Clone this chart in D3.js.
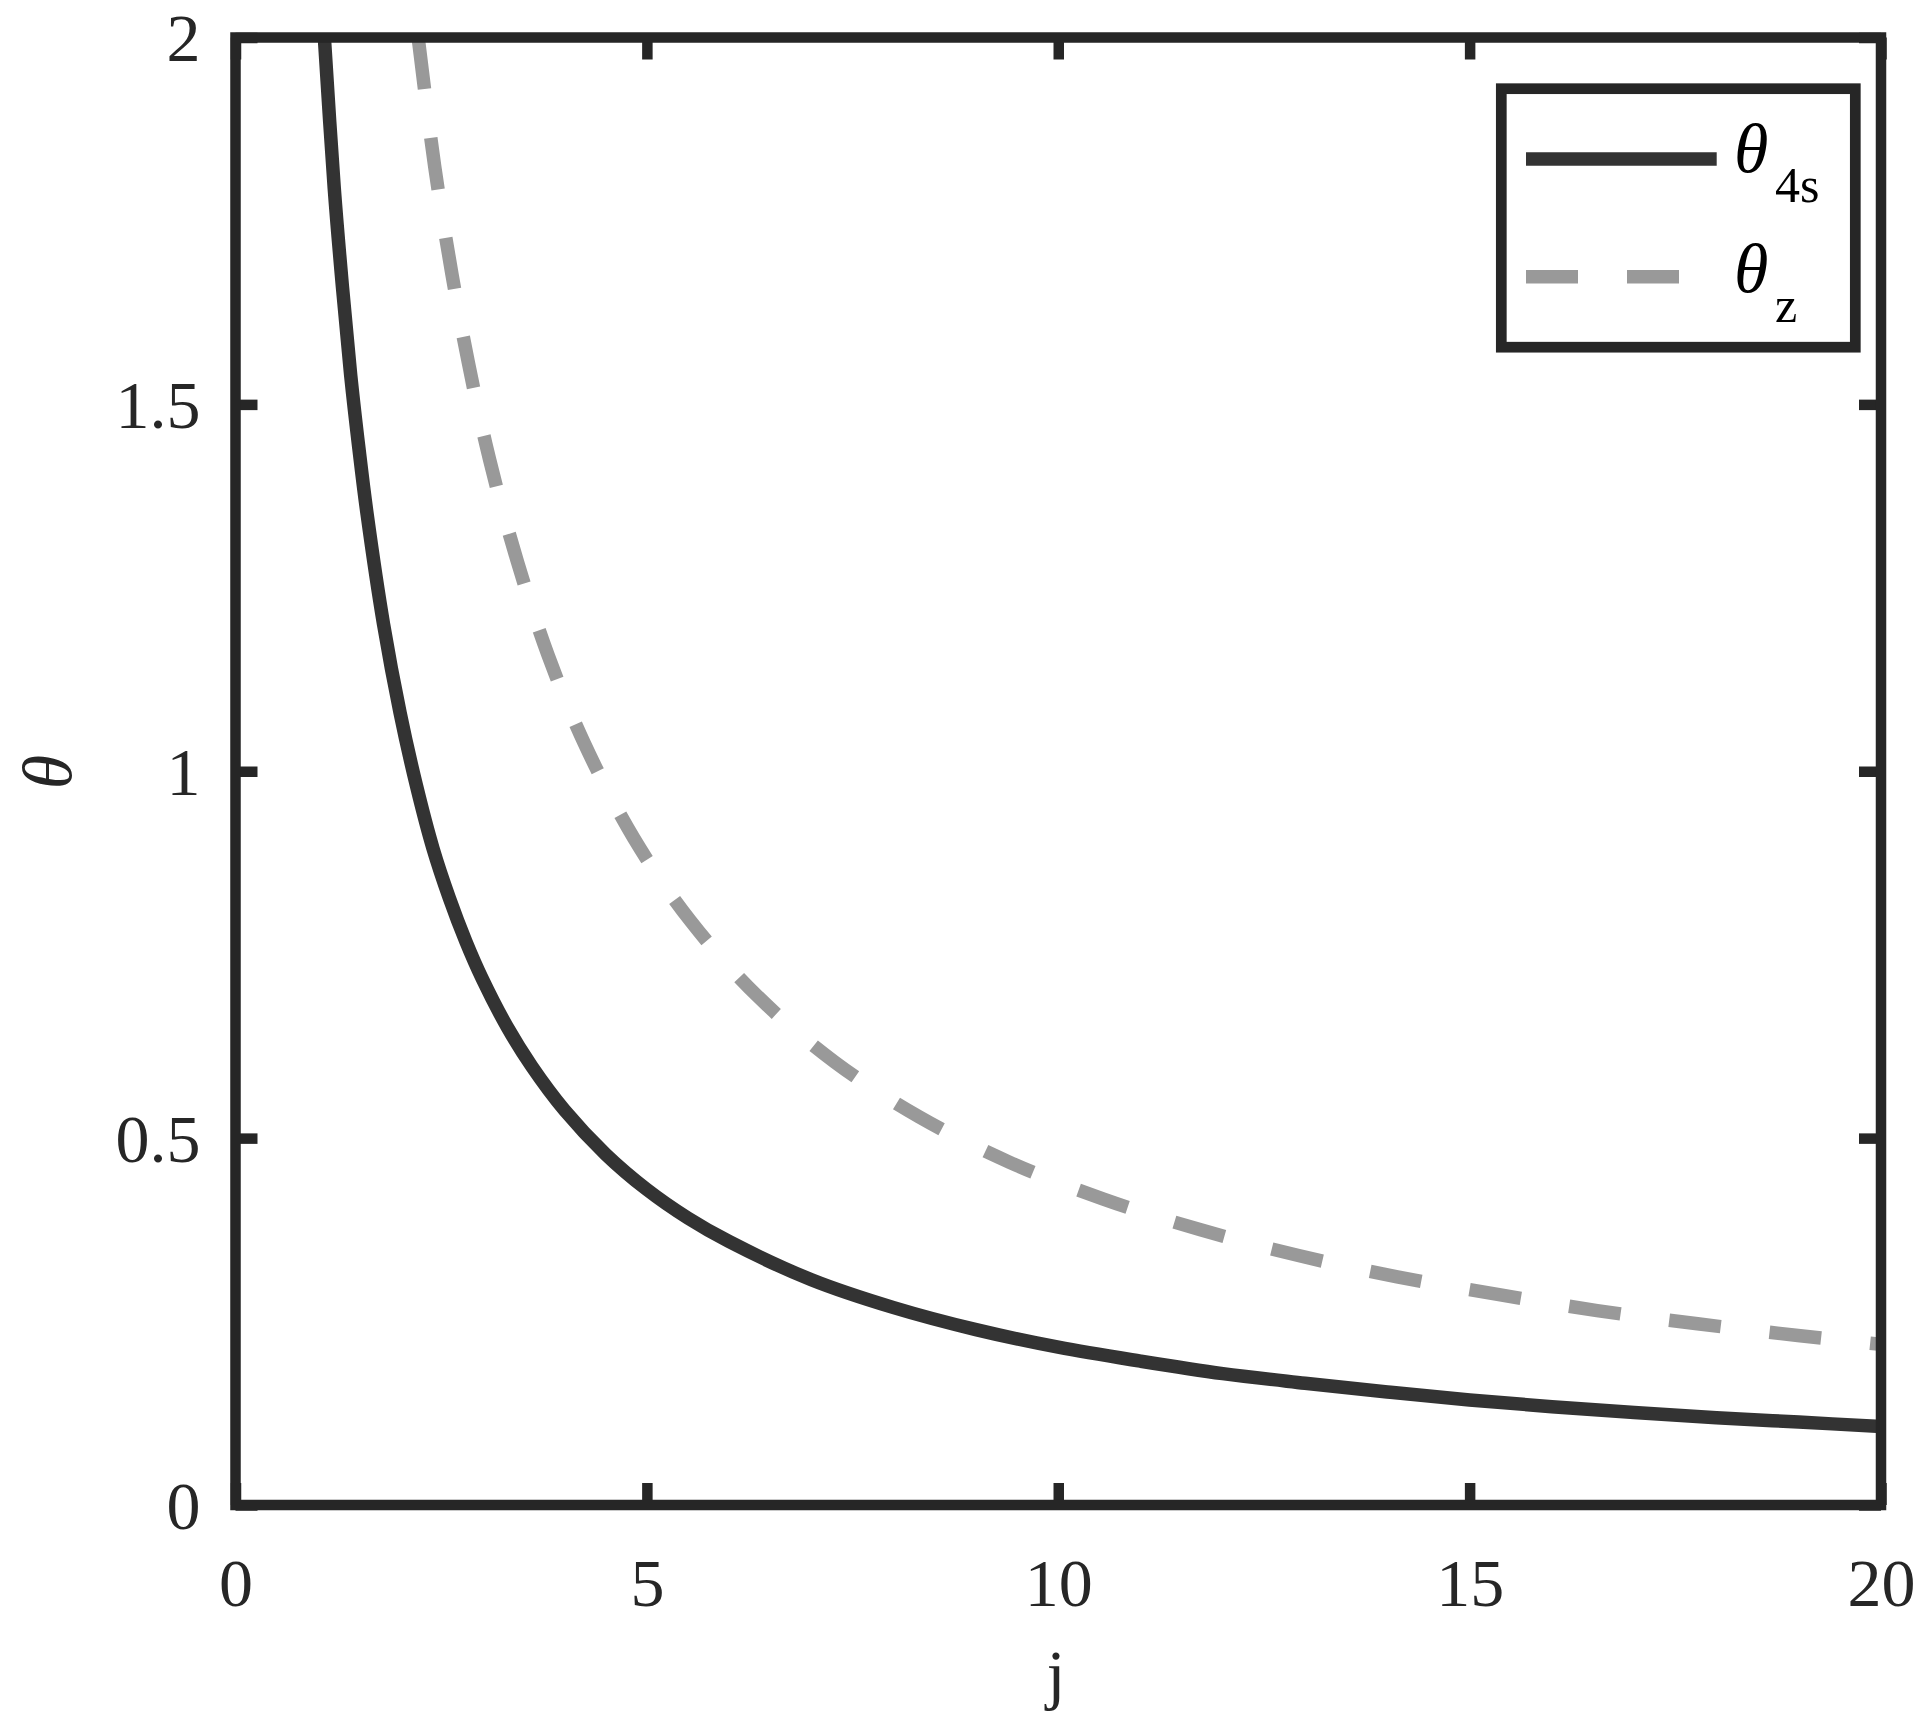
<!DOCTYPE html>
<html>
<head>
<meta charset="utf-8">
<script src="https://cdn.jsdelivr.net/npm/d3@7"></script>
<style>
  html, body { margin: 0; padding: 0; background: #fff; }
  svg { display: block; }
</style>
</head>
<body>
<svg id="chart" width="1926" height="1732"></svg>
<script>
// ---- data ----
const jSolid    = [1.08, 1.2, 1.3, 1.4, 1.5, 1.6, 1.8, 2.0, 2.2, 2.4, 2.6, 2.8, 3.0, 3.3, 3.6, 4.0, 4.5, 5.0, 5.5, 6.0, 7.0, 8.0, 9.0, 10, 11, 12, 13, 14, 15, 16, 17, 18, 19, 20];
const theta4s   = [2.0, 1.795, 1.66, 1.54, 1.44, 1.35, 1.20, 1.08, 0.98, 0.895, 0.827, 0.768, 0.717, 0.652, 0.598, 0.538, 0.478, 0.430, 0.391, 0.359, 0.307, 0.269, 0.239, 0.215, 0.196, 0.179, 0.166, 0.154, 0.143, 0.134, 0.126, 0.119, 0.113, 0.107];
const jDashed   = [2.22, 2.42, 2.63, 2.83, 3.09, 3.42, 3.80, 4.24, 4.84, 5.53, 6.34, 7.28, 8.31, 9.41, 10.55, 11.73, 12.92, 14.12, 15.34, 16.55, 17.77, 18.99, 20.0];
const thetaZ    = [2.0, 1.825, 1.678, 1.557, 1.424, 1.288, 1.158, 1.038, 0.909, 0.796, 0.694, 0.604, 0.529, 0.467, 0.417, 0.375, 0.340, 0.311, 0.287, 0.265, 0.247, 0.231, 0.219];
const xTicks    = [0, 5, 10, 15, 20];
const yTicks    = [0, 0.5, 1, 1.5, 2];
const yTickLabels = ["0", "0.5", "1", "1.5", "2"];
const seriesNames = [{main: "θ", sub: "4s"}, {main: "θ", sub: "z"}];

// ---- layout ----
const L = 235.5, R = 1881, T = 37.5, B = 1505;
const frameColor = "#262626";
const font = "'Liberation Serif', 'Times New Roman', serif";

const svg = d3.select("#chart");
const x = d3.scaleLinear().domain([0, 20]).range([L, R]);
const y = d3.scaleLinear().domain([0, 2]).range([B, T]);

svg.append("defs").append("clipPath").attr("id", "clip")
  .append("rect").attr("x", L).attr("y", T).attr("width", R - L).attr("height", B - T);

const line = d3.line().x(d => x(d[0])).y(d => y(d[1])).curve(d3.curveCatmullRom.alpha(0.5));

const plot = svg.append("g").attr("clip-path", "url(#clip)");
plot.append("path")
  .datum(jSolid.map((j, i) => [j, theta4s[i]]))
  .attr("d", line).attr("fill", "none")
  .attr("stroke", "#333333").attr("stroke-width", 13.5);
plot.append("path")
  .datum(jDashed.map((j, i) => [j, thetaZ[i]]))
  .attr("d", line).attr("fill", "none")
  .attr("stroke", "#999999").attr("stroke-width", 13.5)
  .attr("stroke-dasharray", "52,49");

// ---- axes (inward ticks on all four sides) ----
const tickLen = 22;
function styleAxis(g) {
  g.select(".domain").remove();
  g.selectAll(".tick line").attr("stroke", frameColor).attr("stroke-width", 10.5);
  g.selectAll(".tick text").attr("fill", frameColor).attr("font-family", font).attr("font-size", 68);
}
const gB = svg.append("g").attr("transform", `translate(0,${B})`)
  .call(d3.axisBottom(x).tickValues(xTicks).tickSize(-tickLen).tickFormat(d3.format("d")));
styleAxis(gB);
gB.selectAll(".tick text").attr("y", 101).attr("dy", null);

const gT = svg.append("g").attr("transform", `translate(0,${T})`)
  .call(d3.axisTop(x).tickValues(xTicks).tickSize(-tickLen).tickFormat(""));
styleAxis(gT);

const gL = svg.append("g").attr("transform", `translate(${L},0)`)
  .call(d3.axisLeft(y).tickValues(yTicks).tickSize(-tickLen).tickFormat((d, i) => yTickLabels[i]));
styleAxis(gL);
gL.selectAll(".tick text").attr("x", -35).attr("dy", "0.34em");

const gR = svg.append("g").attr("transform", `translate(${R},0)`)
  .call(d3.axisRight(y).tickValues(yTicks).tickSize(-tickLen).tickFormat(""));
styleAxis(gR);

// frame
svg.append("rect").attr("x", L).attr("y", T).attr("width", R - L).attr("height", B - T)
  .attr("fill", "none").attr("stroke", frameColor).attr("stroke-width", 10.5);

// axis labels
svg.append("text").attr("x", 1056).attr("y", 1697).attr("text-anchor", "middle")
  .attr("font-family", font).attr("font-size", 68).attr("fill", frameColor).text("j");
svg.append("text").attr("transform", "translate(71,772) rotate(-90)").attr("text-anchor", "middle")
  .attr("font-family", font).attr("font-style", "italic").attr("font-size", 70).attr("fill", frameColor).text("θ");

// ---- legend ----
const lg = svg.append("g");
lg.append("rect").attr("x", 1501.3).attr("y", 88.7).attr("width", 1855.3 - 1501.3).attr("height", 347.2 - 88.7)
  .attr("fill", "#fff").attr("stroke", frameColor).attr("stroke-width", 10.7);
const legendRows = [
  {yy: 159, color: "#333333", dash: null, base: 171.7, subBase: 202},
  {yy: 276.7, color: "#999999", dash: "52,49", base: 291.7, subBase: 322}
];
legendRows.forEach((r, i) => {
  lg.append("line").attr("x1", 1526).attr("x2", 1716.7).attr("y1", r.yy).attr("y2", r.yy)
    .attr("stroke", r.color).attr("stroke-width", 13.5).attr("stroke-dasharray", r.dash);
  lg.append("text").attr("x", 1734).attr("y", r.base)
    .attr("font-family", font).attr("font-style", "italic").attr("font-size", 70).attr("fill", "#000")
    .text(seriesNames[i].main);
  lg.append("text").attr("x", 1775).attr("y", r.subBase)
    .attr("font-family", font).attr("font-size", 50).attr("fill", "#000")
    .text(seriesNames[i].sub);
});
</script>
</body>
</html>
